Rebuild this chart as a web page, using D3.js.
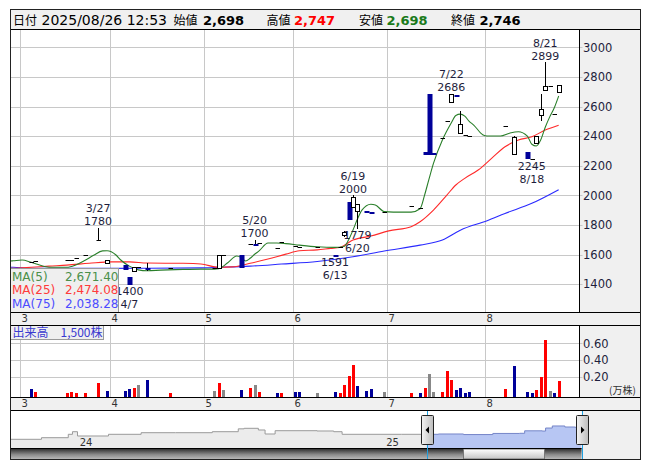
<!DOCTYPE html>
<html><head><meta charset="utf-8">
<script src="https://cdn.jsdelivr.net/npm/d3@7"></script>
<style>
html,body{margin:0;padding:0;background:#fff;}
svg{display:block;}
text{font-family:"DejaVu Sans",Verdana,sans-serif;}
.jp{font-family:"Noto Sans CJK JP","DejaVu Sans",sans-serif;}
</style></head><body>
<svg id="chart" width="653" height="470"></svg>
<script>
// ---------------- DATA ----------------
const holidays = ["2025-03-20","2025-04-29","2025-05-05","2025-05-06","2025-07-21","2025-08-11"];
const calendarStart = "2025-02-24", calendarEnd = "2025-09-05";
const referenceDay = "2025-03-03";

const candleDates = ["2025-03-05","2025-03-06","2025-03-17","2025-03-18","2025-03-19","2025-03-24","2025-03-27","2025-03-31",
 "2025-04-04","2025-04-07","2025-04-08","2025-04-09","2025-04-11","2025-04-18",
 "2025-05-07","2025-05-08","2025-05-09","2025-05-15","2025-05-19","2025-05-20","2025-05-21","2025-05-27","2025-05-28",
 "2025-06-02","2025-06-03","2025-06-09","2025-06-13","2025-06-16","2025-06-17","2025-06-18","2025-06-19","2025-06-20","2025-06-24","2025-06-25","2025-06-30",
 "2025-07-08","2025-07-10","2025-07-11","2025-07-14","2025-07-15","2025-07-17","2025-07-18","2025-07-22","2025-07-23","2025-07-24","2025-07-25","2025-07-28",
 "2025-08-07","2025-08-12","2025-08-15","2025-08-18","2025-08-19","2025-08-20","2025-08-21","2025-08-22","2025-08-25","2025-08-26"];
const opens  = [1550,1560,1562,1565,1574,1597,1700,1541, 1530,1450,1491,1514,1510,1508, 1508,1508,1597,1597,1670,1672,1676,1646,1682,
 1658,1653,1653,1600,1649,1732,1957,1922,1896,1892,1888,1885, 1928,1915,2290,2684,2285,2385,2504,2632,2680,2423,2405,2400,
 2468,2280,2295,2245,2351,2543,2711,2738,2547,2698];
const highs  = [1550,1560,1562,1565,1574,1597,1780,1563, 1530,1450,1514,1514,1545,1508, 1508,1597,1597,1597,1670,1700,1676,1646,1682,
 1658,1653,1653,1600,1649,1760,1957,2000,1939,1892,1888,1885, 1928,1915,2290,2684,2285,2385,2504,2686,2680,2572,2405,2400,
 2468,2400,2295,2245,2401,2684,2899,2738,2547,2747];
const lows   = [1550,1560,1562,1565,1574,1597,1700,1541, 1500,1400,1491,1514,1495,1508, 1508,1508,1597,1514,1670,1670,1676,1646,1682,
 1658,1653,1653,1591,1649,1725,1838,1922,1779,1889,1885,1885, 1928,1915,2280,2280,2280,2385,2504,2632,2676,2423,2405,2400,
 2468,2279,2255,2245,2351,2509,2711,2738,2547,2698];
const closes = [1550,1560,1562,1565,1574,1597,1700,1563, 1500,1400,1514,1514,1505,1508, 1508,1597,1597,1514,1670,1670,1676,1646,1682,
 1658,1653,1653,1591,1649,1754,1838,1990,1939,1889,1885,1885, 1928,1915,2280,2280,2280,2385,2504,2686,2676,2480,2405,2400,
 2468,2395,2255,2245,2401,2581,2738,2738,2547,2746];
const volumes = [500,200,100,200,100,100,1200,300, 300,500,600,1000,1600,100, 300,1200,400,400,600,1000,200,100,100,
 200,200,100,200,100,1000,2100,3400,900,300,500,200, 100,100,600,2300,200,200,2700,1600,400,700,100,200,
 500,3300,200,100,400,2000,6400,300,100,1500];
const prevClose = 1570;

const ma5Dates = ["2025-02-26","2025-02-27","2025-03-03","2025-03-05","2025-03-10","2025-03-12","2025-03-17","2025-03-19","2025-03-24","2025-03-26","2025-03-28","2025-03-31",
 "2025-04-02","2025-04-03","2025-04-07","2025-04-09","2025-04-11","2025-04-16","2025-04-23","2025-04-30","2025-05-07","2025-05-08","2025-05-12","2025-05-14","2025-05-15",
 "2025-05-16","2025-05-19","2025-05-20","2025-05-21","2025-05-23","2025-05-27","2025-05-29","2025-06-03","2025-06-09","2025-06-13","2025-06-17","2025-06-18","2025-06-19",
 "2025-06-20","2025-06-23","2025-06-25","2025-06-26","2025-06-30","2025-07-02","2025-07-08","2025-07-10","2025-07-11","2025-07-14","2025-07-15","2025-07-17","2025-07-22",
 "2025-07-23","2025-07-24","2025-07-25","2025-07-28","2025-07-29","2025-07-31","2025-08-01","2025-08-06","2025-08-08","2025-08-13","2025-08-15","2025-08-18","2025-08-19",
 "2025-08-20","2025-08-21","2025-08-22","2025-08-25","2025-08-26"];
const ma5Values = [1556,1558,1563,1548,1520,1514,1514,1530,1560,1595,1625,1626,
 1597,1565,1522,1497,1491,1495,1500,1502,1502,1505,1545,1590,1580,
 1557,1575,1602,1625,1678,1678,1674,1664,1653,1649,1655,1698,1765,
 1840,1900,1940,1935,1890,1887,1887,1910,2000,2110,2216,2374,2490,
 2540,2549,2535,2500,2475,2410,2401,2401,2420,2430,2400,2345,2333,
 2375,2460,2530,2590,2671];
const ma25Dates = ["2025-02-26","2025-02-27","2025-03-05","2025-03-11","2025-03-17","2025-03-25","2025-04-01","2025-04-07","2025-04-11","2025-04-23","2025-04-30",
 "2025-05-08","2025-05-13","2025-05-19","2025-05-23","2025-05-29","2025-06-03","2025-06-09","2025-06-12","2025-06-16","2025-06-19","2025-06-25","2025-07-01",
 "2025-07-08","2025-07-10","2025-07-15","2025-07-18","2025-07-23","2025-07-25","2025-07-30","2025-08-04","2025-08-07","2025-08-13","2025-08-18","2025-08-21","2025-08-26"];
const ma25Values = [1506,1507,1514,1522,1529,1541,1551,1551,1543,1541,1536,
 1514,1517,1541,1570,1603,1626,1632,1642,1648,1698,1725,1760,
 1788,1822,1901,2002,2070,2115,2171,2250,2328,2374,2396,2441,2474];
const ma75Dates = ["2025-02-26","2025-02-27","2025-03-05","2025-04-01","2025-04-30","2025-05-08","2025-05-19","2025-05-28","2025-06-09","2025-06-19","2025-06-30",
 "2025-07-10","2025-07-17","2025-07-24","2025-08-01","2025-08-07","2025-08-18","2025-08-26"];
const ma75Values = [1514,1514,1507,1507,1510,1514,1522,1536,1553,1585,1624,
 1664,1698,1765,1829,1878,1946,2038];
const maNames = ["MA(5)","MA(25)","MA(75)"];
const maLatest = [2671.40, 2474.08, 2038.28];

const priceTicks = [1400,1600,1800,2000,2200,2400,2600,2800,3000];
const volumeTicks = [0.20,0.40,0.60];
const monthLabels = ["3","4","5","6","7","8"];

const annDates  = ["2025-03-27","2025-04-07","2025-05-20","2025-06-13","2025-06-19","2025-06-20","2025-07-22","2025-08-18","2025-08-21"];
const annValues = [1780,1400,1700,1591,2000,1779,2686,2245,2899];
const annKinds  = ["high","low","high","low","high","low","high","low","high"];

const headerStamp = "2025/08/26 12:53";

const navDates = ["2023-10-14","2023-11-20","2023-12-22","2023-12-27","2024-01-02","2024-02-08","2024-03-18","2024-04-28","2024-06-11","2024-07-12","2024-07-19",
 "2024-08-05","2024-08-13","2024-08-25","2024-10-14","2024-11-03","2024-11-13","2025-01-23","2025-03-08","2025-04-07","2025-05-12","2025-06-13",
 "2025-06-19","2025-07-10","2025-07-14","2025-07-22","2025-08-06","2025-08-18","2025-08-26"];
const navValues = [882,1084,1512,1840,1298,1512,1714,1714,1840,2200,2268,
 2054,1550,1966,1928,1840,1512,1512,1550,1480,1620,1640,
 1950,1920,2300,2560,2430,2400,2700];
const navYearLabels = ["24","25"];
const navSelection = ["2025-02-22","2025-08-26"];

// ---------------- LAYOUT ----------------
const L = 10.5, R = 579.5, RR = 640.5;
const headTop = 9.5, headBot = 29.5;
const plotTop = 29.5, plotBot = 312.5;
const band1Bot = 325.5, volTop = 325.5, volBot = 397.5, band2Bot = 410.5;
const navTop = 410.5, navBot = 448.5, sbBot = 459.5, navR = 581.6;
const GRID = "#c8c8c8", PANEL = "#f0f0f0", TXT = "#1e1e3c";
const UPC = "#ff0000", DNC = "#000099", EQC = "#888888";

const svg = d3.select("#chart");
const parse = d3.timeParse("%Y-%m-%d"), fmtD = d3.timeFormat("%Y-%m-%d");

// trading-day categories
const tradingDays = d3.timeDay.range(parse(calendarStart), d3.timeDay.offset(parse(calendarEnd),1))
  .filter(d => d.getDay() > 0 && d.getDay() < 6 && !holidays.includes(fmtD(d))).map(fmtD);
const ref = tradingDays.indexOf(referenceDay);
const idx = s => tradingDays.indexOf(s) - ref;

// x: band-start scale on trading-day index
const xBand = d3.scaleLinear().domain([-2.19, 125.06]).range([L, R]);
const xC = s => xBand(idx(s) + 0.4);
const y = d3.scaleLinear().domain([1400, 3000]).range([284.2, 47.3]);
const yV = d3.scaleLinear().domain([0, 0.6]).range([393.4, 343.3]);

// backgrounds
svg.append("rect").attr("width",653).attr("height",470).attr("fill","#fff");
svg.append("rect").attr("x",L).attr("y",headTop).attr("width",RR-L).attr("height",headBot-headTop).attr("fill",PANEL);
svg.append("rect").attr("x",R).attr("y",plotTop).attr("width",RR-R).attr("height",plotBot-plotTop).attr("fill",PANEL);
svg.append("rect").attr("x",L).attr("y",plotBot).attr("width",RR-L).attr("height",band1Bot-plotBot).attr("fill",PANEL);
svg.append("rect").attr("x",R).attr("y",volTop).attr("width",RR-R).attr("height",volBot-volTop).attr("fill",PANEL);
svg.append("rect").attr("x",L).attr("y",volBot).attr("width",RR-L).attr("height",band2Bot-volBot).attr("fill",PANEL);
svg.append("rect").attr("x",navR).attr("y",navTop).attr("width",RR-navR).attr("height",sbBot-navTop).attr("fill",PANEL);

// month positions
const monthStarts = monthLabels.map(m => tradingDays.find(d => +d.slice(5,7) === +m && d >= "2025-03-01"));
const gx = s => Math.round(xBand(idx(s))) + 0.5;

// gridlines main
const g = svg.append("g");
priceTicks.forEach(v => {
  const yy = Math.round(y(v)) + 0.5;
  g.append("line").attr("x1",L).attr("x2",R+3).attr("y1",yy).attr("y2",yy).attr("stroke",GRID);
  svg.append("text").attr("x",583).attr("y",y(v)+4.2).attr("font-size",11.5).attr("fill",TXT).text(v);
});
volumeTicks.forEach(v => {
  const yy = Math.round(yV(v)) + 0.5;
  g.append("line").attr("x1",L).attr("x2",R+3).attr("y1",yy).attr("y2",yy).attr("stroke",GRID);
  svg.append("text").attr("x",583).attr("y",yV(v)+4.2).attr("font-size",11.5).attr("fill",TXT).text(d3.format(".2f")(v));
});
svg.append("text").attr("class","jp").attr("x",609).attr("y",394).attr("font-size",10).attr("fill","#333").text("(万株)");
monthStarts.forEach((s,i) => {
  const xx = gx(s);
  g.append("line").attr("x1",xx).attr("x2",xx).attr("y1",plotTop).attr("y2",plotBot).attr("stroke",GRID);
  g.append("line").attr("x1",xx).attr("x2",xx).attr("y1",volTop).attr("y2",volBot).attr("stroke",GRID);
  svg.append("text").attr("x",xx+1).attr("y",321.5).attr("font-size",10).attr("fill","#333").text(monthLabels[i]);
  svg.append("text").attr("x",xx+1).attr("y",406.8).attr("font-size",10).attr("fill","#333").text(monthLabels[i]);
});

// clip
svg.append("clipPath").attr("id","pc").append("rect").attr("x",L).attr("y",plotTop).attr("width",R-L).attr("height",plotBot-plotTop);

// MA lines
const maLine = d3.line().x(d => xC(d[0])).y(d => y(d[1])).curve(d3.curveMonotoneX);
const maSets = [[ma75Dates, ma75Values, "#2a2aff"], [ma25Dates, ma25Values, "#ff2a2a"], [ma5Dates, ma5Values, "#2a7f2a"]];
const lg = svg.append("g").attr("clip-path","url(#pc)");
maSets.forEach(([ds, vs, c]) => {
  lg.append("path").datum(ds.map((d,i) => [d, vs[i]])).attr("d", maLine).attr("fill","none").attr("stroke",c).attr("stroke-width",1.1);
});

// candles
const cg = svg.append("g");
candleDates.forEach((d,i) => {
  const cx = Math.round(xC(d));
  const o = opens[i], h = highs[i], l = lows[i], c = closes[i];
  const yh = Math.round(y(h)), yl = Math.round(y(l)), yo = Math.round(y(o)), yc = Math.round(y(c));
  if (yl > yh) cg.append("line").attr("x1",cx+0.5).attr("x2",cx+0.5).attr("y1",yh).attr("y2",yl+1).attr("stroke","#000");
  if (c > o) {
    cg.append("rect").attr("x",cx-1.5).attr("y",yc+0.5).attr("width",4).attr("height",Math.max(1, yo-yc))
      .attr("fill","#fff").attr("stroke","#000");
  } else if (c < o) {
    cg.append("rect").attr("x",cx-1.5).attr("y",yo).attr("width",5).attr("height",Math.max(2, yc-yo+1)).attr("fill",DNC);
  } else {
    cg.append("line").attr("x1",cx-1.5).attr("x2",cx+3).attr("y1",yc+0.5).attr("y2",yc+0.5).attr("stroke","#000");
  }
});

// annotations (two lines: date over value for highs, value over date for lows)
const fmtMD = s => (+s.slice(5,7)) + "/" + (+s.slice(8,10));
const ANN_FS = 11, ANN_GAP = 13;
annDates.forEach((d,i) => {
  const cx = xC(d), v = annValues[i];
  const isHigh = annKinds[i] === "high";
  const lines = isHigh ? [fmtMD(d), String(v)] : [String(v), fmtMD(d)];
  const firstBase = isHigh ? y(v) - 2.5 - ANN_GAP : y(v) + 10.5;
  lines.forEach((t,k) => {
    svg.append("text").attr("x",cx).attr("y",firstBase + k*ANN_GAP).attr("text-anchor","middle")
      .attr("font-size",ANN_FS).attr("fill",TXT).text(t);
  });
});

// MA legend
svg.append("rect").attr("x",L).attr("y",268.5).attr("width",108).attr("height",plotBot-268.5).attr("fill","#efefef").attr("stroke","#9a9a9a");
const legCols = ["#4a8f4a","#ff3b3b","#4b4bff"];
maNames.forEach((n,i) => {
  const yy = 280.5 + i*13.6;
  svg.append("text").attr("x",12).attr("y",yy).attr("font-size",12).attr("fill",legCols[i]).text(n);
  svg.append("text").attr("x",65).attr("y",yy).attr("font-size",12).attr("fill",legCols[i]).text(d3.format(",.2f")(maLatest[i]));
});

// volume bars
candleDates.forEach((d,i) => {
  const cx = Math.round(xC(d));
  const pc = i === 0 ? prevClose : closes[i-1];
  const col = closes[i] > pc ? UPC : closes[i] < pc ? DNC : EQC;
  const yt = Math.round(yV(volumes[i] / 10000));
  svg.append("rect").attr("x",cx-1).attr("y",yt).attr("width",3).attr("height",volBot - yt).attr("fill",col);
});
svg.append("rect").attr("x",L).attr("y",volTop).attr("width",93).attr("height",14).attr("fill","#efefef").attr("stroke","#9a9a9a");
svg.append("text").attr("class","jp").attr("x",12.5).attr("y",337).attr("font-size",12).attr("fill","#3a3ad0")
  .text("出来高　" + d3.format(",")(volumes[volumes.length-1]) + "株");

// header
const n = closes.length - 1;
const hdr = svg.append("g");
const ht = (x, t, opts) => {
  const e = hdr.append("text").attr("x",x).attr("y",24.5).text(t);
  Object.entries(opts).forEach(([k,v]) => e.attr(k,v));
  return e;
};
ht(13, "日付", {"class":"jp","font-size":12,"fill":"#000"});
ht(41.5, headerStamp, {"font-size":14,"fill":"#000"});
ht(173.5, "始値", {"class":"jp","font-size":12,"fill":"#000"});
ht(203, d3.format(",")(opens[n]), {"font-size":13,"font-weight":"bold","fill":"#000"});
ht(266.5, "高値", {"class":"jp","font-size":12,"fill":"#000"});
ht(294, d3.format(",")(highs[n]), {"font-size":13,"font-weight":"bold","fill":"#ff0000"});
ht(359, "安値", {"class":"jp","font-size":12,"fill":"#000"});
ht(386.5, d3.format(",")(lows[n]), {"font-size":13,"font-weight":"bold","fill":"#1a7a1a"});
ht(451, "終値", {"class":"jp","font-size":12,"fill":"#000"});
ht(479.5, d3.format(",")(closes[n]), {"font-size":13,"font-weight":"bold","fill":"#000"});

// navigator
const navX = d3.scaleTime().domain([parse(navDates[0]), parse(navDates[navDates.length-1])]).range([L, navR]);
const navY = d3.scaleLinear().domain([0, 4000]).range([446.3, 414.55]);
const navPts = navDates.map((d,i) => [parse(d), navValues[i]]);
const navArea = d3.area().x(d => navX(d[0])).y0(navBot).y1(d => navY(d[1])).curve(d3.curveStepAfter);
const navLine = d3.line().x(d => navX(d[0])).y(d => navY(d[1])).curve(d3.curveStepAfter);
const s0 = navX(parse(navSelection[0])), s1 = navX(parse(navSelection[1]));
svg.append("clipPath").attr("id","unsel").append("rect").attr("x",L).attr("y",navTop).attr("width",s0-L).attr("height",navBot-navTop);
svg.append("clipPath").attr("id","sel").append("rect").attr("x",s0).attr("y",navTop).attr("width",s1-s0).attr("height",navBot-navTop);
svg.append("path").datum(navPts).attr("d",navArea).attr("fill","#ececec").attr("clip-path","url(#unsel)");
svg.append("path").datum(navPts).attr("d",navLine).attr("fill","none").attr("stroke","#9a9a9a").attr("clip-path","url(#unsel)");
svg.append("path").datum(navPts).attr("d",navArea).attr("fill","#b7c6f3").attr("clip-path","url(#sel)");
svg.append("path").datum(navPts).attr("d",navLine).attr("fill","none").attr("stroke","#7585c8").attr("clip-path","url(#sel)");
navYearLabels.forEach(yl => {
  svg.append("text").attr("x",navX(parse("20"+yl+"-01-01"))+3).attr("y",445.5).attr("font-size",10).attr("fill","#333").text(yl);
});

// scrollbar
const defs = svg.append("defs");
const gr1 = defs.append("linearGradient").attr("id","sbTrack").attr("x1",0).attr("x2",0).attr("y1",0).attr("y2",1);
gr1.append("stop").attr("offset","0%").attr("stop-color","#2a2a2a");
gr1.append("stop").attr("offset","55%").attr("stop-color","#8a8a8a");
gr1.append("stop").attr("offset","100%").attr("stop-color","#bdbdbd");
const gr2 = defs.append("linearGradient").attr("id","sbThumb").attr("x1",0).attr("x2",0).attr("y1",0).attr("y2",1);
gr2.append("stop").attr("offset","0%").attr("stop-color","#ffffff");
gr2.append("stop").attr("offset","100%").attr("stop-color","#c4c4c4");
const gr3 = defs.append("linearGradient").attr("id","hdl").attr("x1",0).attr("x2",1).attr("y1",0).attr("y2",0);
gr3.append("stop").attr("offset","0%").attr("stop-color","#f4f4f4");
gr3.append("stop").attr("offset","100%").attr("stop-color","#bcbcbc");
svg.append("rect").attr("x",L).attr("y",navBot).attr("width",navR-L).attr("height",sbBot-navBot).attr("fill","url(#sbTrack)");
svg.append("rect").attr("x",463.5).attr("y",navBot+0.5).attr("width",81).attr("height",sbBot-navBot-1).attr("fill","url(#sbThumb)").attr("stroke","#777");
svg.append("line").attr("x1",L).attr("x2",navR).attr("y1",navBot).attr("y2",navBot).attr("stroke","#000");

// selection edges and handles
[s0, s1].forEach((sx, k) => {
  const xx = Math.round(sx) + 0.5;
  svg.append("line").attr("x1",xx).attr("x2",xx).attr("y1",navTop).attr("y2",sbBot).attr("stroke","#1ea0e0");
  svg.append("rect").attr("x",xx-6).attr("y",415.5).attr("width",12).attr("height",29).attr("rx",1)
    .attr("fill","url(#hdl)").attr("stroke","#222");
  const tri = k === 0 ? [[xx-2,430],[xx+1.5,426.5],[xx+1.5,433.5]] : [[xx+2,430],[xx-1.5,426.5],[xx-1.5,433.5]];
  svg.append("path").attr("d", d3.line()(tri) + "Z").attr("fill","#000");
});

// frame lines
const fl = (x1,y1,x2,y2,c) => svg.append("line").attr("x1",x1).attr("y1",y1).attr("x2",x2).attr("y2",y2).attr("stroke",c||"#000");
fl(L,headBot,RR,headBot);
fl(L,plotBot,RR,plotBot);
fl(L,band1Bot,RR,band1Bot);
fl(L,volBot,RR,volBot);
fl(L,band2Bot,RR,band2Bot);
fl(R,plotTop,R,plotBot);
fl(R,volTop,R,volBot);
svg.append("rect").attr("x",L).attr("y",headTop).attr("width",RR-L).attr("height",sbBot-headTop).attr("fill","none").attr("stroke","#222");
</script>
</body></html>
